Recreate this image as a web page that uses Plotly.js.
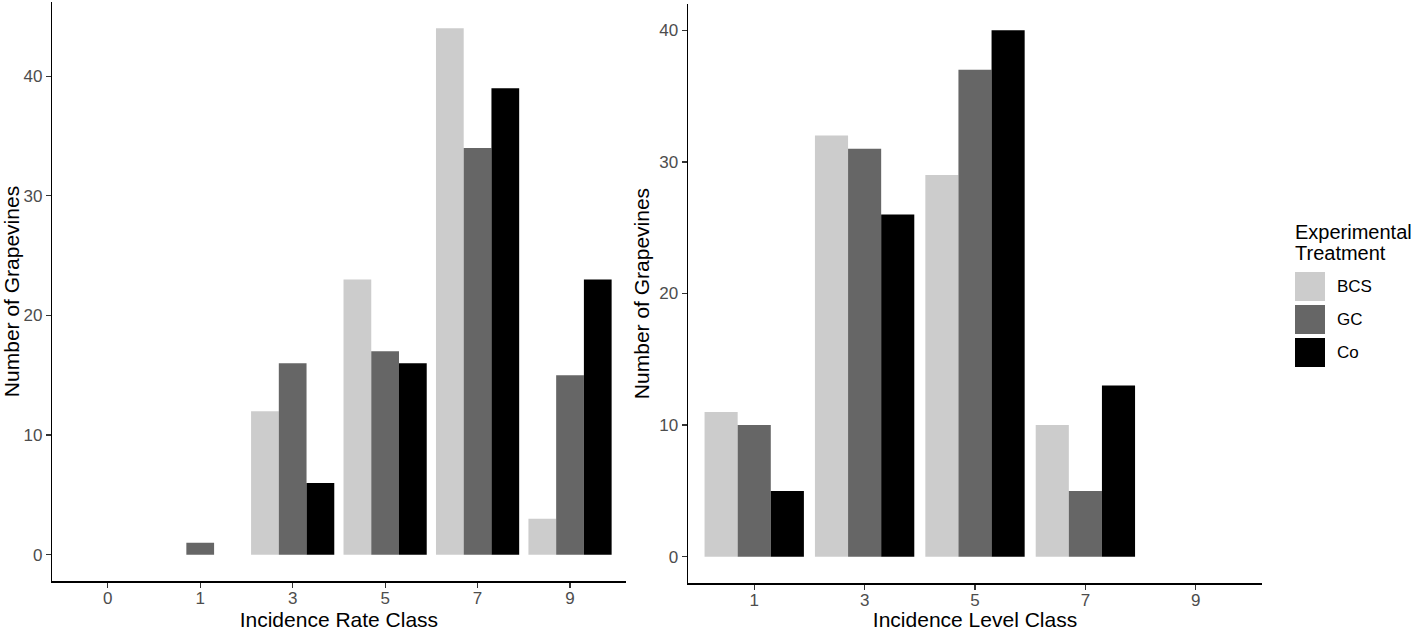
<!DOCTYPE html>
<html>
<head>
<meta charset="utf-8">
<script src="https://cdn.plot.ly/plotly-3.0.1.min.js"></script>
<style>
  html, body { margin: 0; padding: 0; background: #fff; }
  #chart { width: 1417px; height: 631px; }
</style>
</head>
<body>
<div id="chart"></div>
<script>
(function() {
  'use strict';

  // left panel: incidence rate classes
  var rateClasses = ['0', '1', '3', '5', '7', '9'];
  var rateBCS = [0, 0, 12, 23, 44, 3];
  var rateGC  = [0, 1, 16, 17, 34, 15];
  var rateCo  = [0, 0, 6, 16, 39, 23];

  // right panel: incidence level classes
  var levelClasses = ['1', '3', '5', '7', '9'];
  var levelBCS = [11, 32, 29, 10, 0];
  var levelGC  = [10, 31, 37, 5, 0];
  var levelCo  = [5, 26, 40, 13, 0];

  var treatments = ['BCS', 'GC', 'Co'];
  var colors = ['#cccccc', '#666666', '#000000'];
  var legendTitle = ['Experimental', 'Treatment'];

  var FONT = 'Liberation Sans, Arial, sans-serif';
  var W = 1417, H = 631;

  function bar(x, y, i, xa, ya) {
    return {
      type: 'bar', x: x, y: y, name: treatments[i],
      xaxis: xa, yaxis: ya, showlegend: false,
      marker: { color: colors[i], line: { width: 0 } },
      hoverinfo: 'x+y+name'
    };
  }

  var data = [
    bar(rateClasses, rateBCS, 0, 'x', 'y'),
    bar(rateClasses, rateGC, 1, 'x', 'y'),
    bar(rateClasses, rateCo, 2, 'x', 'y'),
    bar(levelClasses, levelBCS, 0, 'x2', 'y2'),
    bar(levelClasses, levelGC, 1, 'x2', 'y2'),
    bar(levelClasses, levelCo, 2, 'x2', 'y2')
  ];

  function xAxis(title, domain, n, anchor) {
    return {
      domain: domain, anchor: anchor, type: 'category',
      range: [-0.6, n - 0.4], fixedrange: true,
      showgrid: false, zeroline: false,
      showline: true, linecolor: '#000', linewidth: 1.5,
      ticks: 'outside', ticklen: 5, tickwidth: 1.2, tickcolor: '#333',
      ticklabelstandoff: -4,
      tickfont: { family: FONT, size: 17, color: '#4d4d4d' },
      title: { text: title, font: { family: FONT, size: 21, color: '#000' }, standoff: 8 },
      automargin: false
    };
  }

  function yAxis(domain, range, anchor) {
    return {
      domain: domain, anchor: anchor, range: range, fixedrange: true,
      tickvals: [0, 10, 20, 30, 40],
      showgrid: false, zeroline: false,
      showline: true, linecolor: '#000', linewidth: 1.5,
      ticks: 'outside', ticklen: 5, tickwidth: 1.2, tickcolor: '#333',
      tickfont: { family: FONT, size: 17, color: '#4d4d4d' },
      title: { text: 'Number of Grapevines', font: { family: FONT, size: 21, color: '#000' }, standoff: 4 },
      automargin: false
    };
  }

  // custom legend built from treatments/colors
  var shapes = [], annotations = [];
  legendTitle.forEach(function(line, i) {
    annotations.push({
      xref: 'paper', yref: 'paper', x: 1293 / W, y: 1 - (232 + i * 21) / H,
      xanchor: 'left', yanchor: 'middle', align: 'left', showarrow: false,
      text: line, font: { family: FONT, size: 20, color: '#000' }
    });
  });
  treatments.forEach(function(t, i) {
    var top = 272 + i * 33;
    shapes.push({
      type: 'rect', xref: 'paper', yref: 'paper',
      x0: 1295 / W, x1: 1325 / W, y0: 1 - top / H, y1: 1 - (top + 29) / H,
      fillcolor: colors[i], line: { width: 0 }
    });
    annotations.push({
      xref: 'paper', yref: 'paper', x: 1335 / W, y: 1 - (top + 14.5) / H,
      xanchor: 'left', yanchor: 'middle', showarrow: false,
      text: t, font: { family: FONT, size: 17, color: '#000' }
    });
  });

  var layout = {
    width: W, height: H,
    paper_bgcolor: '#fff', plot_bgcolor: '#fff',
    margin: { l: 0, r: 0, t: 0, b: 0 },
    font: { family: FONT, color: '#000' },
    barmode: 'group', bargap: 0.1, bargroupgap: 0,
    showlegend: false,
    xaxis: xAxis('Incidence Rate Class', [52.3 / W, 625.5 / W], rateClasses.length, 'y'),
    yaxis: yAxis([(H - 581) / H, (H - 2) / H], [-2.2, 46.2], 'x'),
    xaxis2: xAxis('Incidence Level Class', [688 / W, 1262 / W], levelClasses.length, 'y2'),
    yaxis2: yAxis([(H - 583) / H, (H - 4) / H], [-2, 42], 'x2'),
    shapes: shapes,
    annotations: annotations
  };

  Plotly.newPlot('chart', data, layout, { displayModeBar: false, staticPlot: true });
})();
</script>
</body>
</html>
